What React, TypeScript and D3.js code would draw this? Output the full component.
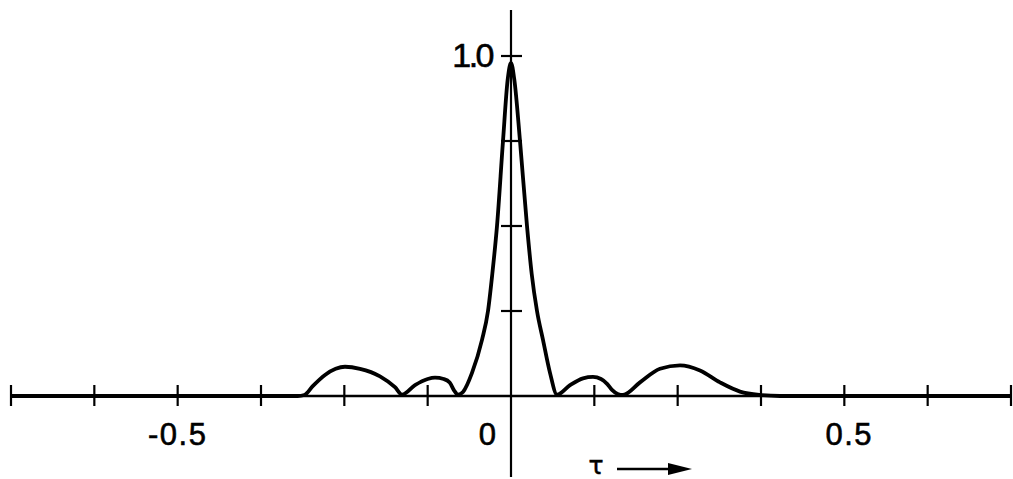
import React from "react";
import * as d3 from "d3";

const tau = [
  -0.75, -0.32, -0.31, -0.297, -0.279, -0.263, -0.249, -0.2265, -0.1965, -0.174, -0.1635,
  -0.144, -0.125, -0.114, -0.101, -0.092, -0.085, -0.0795, -0.072, -0.0585, -0.0435,
  -0.0345, -0.028, -0.021, -0.012, -0.005, 0, 0.005, 0.0135, 0.024, 0.031, 0.039,
  0.048, 0.0585, 0.069, 0.0885, 0.108, 0.123, 0.135, 0.1445, 0.1515, 0.16, 0.168,
  0.1935, 0.2235, 0.2535, 0.2835, 0.3135, 0.3435, 0.3735, 0.4035, 0.75,
];
const r = [
  0, 0, 0.003, 0.03, 0.062, 0.08, 0.086, 0.08, 0.058, 0.026, 0.004,
  0.032, 0.05, 0.054, 0.05, 0.04, 0.015, 0.004, 0.012, 0.068, 0.165,
  0.25, 0.36, 0.5, 0.75, 0.93, 0.98, 0.93, 0.75, 0.5, 0.36, 0.25,
  0.165, 0.068, 0.004, 0.032, 0.052, 0.056, 0.05, 0.035, 0.018, 0.006, 0.003,
  0.04, 0.08, 0.09, 0.075, 0.04, 0.013, 0.003, 0, 0,
];
const xTicks = [-0.75, -0.625, -0.5, -0.375, -0.25, -0.125, 0.125, 0.25, 0.375, 0.5, 0.625, 0.75];
const xLabels = [
  { v: -0.5, t: "-0.5" },
  { v: 0, t: "0" },
  { v: 0.5, t: "0.5" },
];
const yTicks = [0.25, 0.5, 0.75, 1.0];
const yLabel = "1.0";
const axisLabel = "τ";

export default function App() {
  const W = 1013;
  const H = 479;
  const x = d3.scaleLinear().domain([-0.75, 0.75]).range([11, 1011]);
  const y = d3.scaleLinear().domain([0, 1]).range([396, 56]);
  const pts: [number, number][] = tau.map((t, i) => [t, r[i]]);
  const line = d3
    .line<[number, number]>()
    .x((d) => x(d[0]))
    .y((d) => y(d[1]))
    .curve(d3.curveMonotoneX);
  const x0 = x(0);
  const y0 = y(0);
  const font = "'Liberation Sans', Arial, sans-serif";
  return (
    <svg
      width={W}
      height={H}
      style={{ position: "absolute", left: 0, top: 0, background: "#fff" }}
    >
      {/* x axis */}
      <line x1={x(-0.75)} x2={x(0.75)} y1={y0} y2={y0} stroke="#000" strokeWidth={2.5} />
      {xTicks.map((t) => (
        <line key={t} x1={x(t)} x2={x(t)} y1={y0 - 11} y2={y0 + 10} stroke="#000" strokeWidth={2.2} />
      ))}
      {/* y axis */}
      <line x1={x0} x2={x0} y1={10} y2={477} stroke="#000" strokeWidth={2.2} />
      {yTicks.map((t) => (
        <line key={t} x1={x0 - 10} x2={x0 + 11} y1={y(t)} y2={y(t)} stroke="#000" strokeWidth={2.2} />
      ))}
      {/* curve */}
      <path d={line(pts) || ""} fill="none" stroke="#000" strokeWidth={3.8} strokeLinejoin="round" />
      {/* labels */}
      {xLabels.map((l) => (
        <text
          key={l.t}
          x={l.v === 0 ? x0 - 23 : x(l.v) + (l.v > 0 ? 5 : 0)}
          y={445}
          fontFamily={font}
          fontSize={31}
          textAnchor="middle"
          letterSpacing={1.5}
          stroke="#000"
          strokeWidth={0.6}
          fill="#000"
        >
          {l.t}
        </text>
      ))}
      <text
        x={x0 - 19}
        y={67}
        fontFamily={font}
        fontSize={34}
        textAnchor="end"
        letterSpacing={-2.5}
        stroke="#000"
        strokeWidth={0.6}
        fill="#000"
      >
        {yLabel}
      </text>
      <text
        x={596}
        y={474}
        fontFamily="'DejaVu Sans', sans-serif"
        fontSize={25}
        textAnchor="middle"
        stroke="#000"
        strokeWidth={0.5}
        fill="#000"
      >
        {axisLabel}
      </text>
      <line x1={617} x2={672} y1={469} y2={469} stroke="#000" strokeWidth={2.5} />
      <path d="M 668 463 L 692 469 L 668 475 Z" fill="#000" />
    </svg>
  );
}
